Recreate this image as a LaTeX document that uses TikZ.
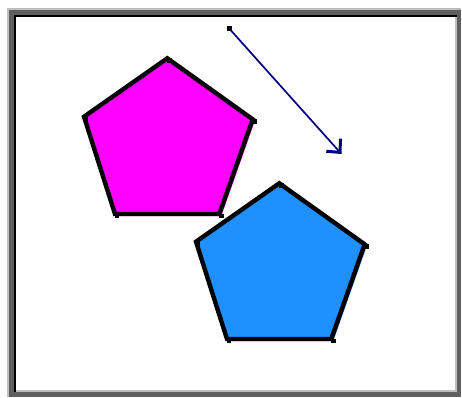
\documentclass[tikz,border=0pt]{standalone}
\usetikzlibrary{arrows.meta,calc}
\definecolor{framedark}{RGB}{95,95,95}
\definecolor{framelight}{RGB}{190,190,190}
\definecolor{penmagenta}{RGB}{255,0,255}
\definecolor{penblue}{RGB}{30,144,255}
\definecolor{vecnavy}{RGB}{0,0,128}
\tikzset{
  pentline/.style = {draw=black, line width=4.4pt, miter limit=4, fill=none},
  handle/.style   = {fill=black, minimum size=4.5pt, inner sep=0pt, outer sep=0pt},
  vecarrow/.style = {draw=vecnavy, line width=1.7pt,
                     -{Straight Barb[length=10pt, width=19pt, line width=3pt]}},
}
% a pentagon at a shifted position: fill, outline and corner handles
\newcommand{\pentagonat}[3]{%
  \begin{scope}[shift={(#1,#2)}]
    \fill[#3] (167.3,58.3) -- (252.7,119.3) -- (219.3,214) -- (115,214) -- (84,116.7) -- cycle;
    \fill[#3] (169.3,60.3) -- (254.7,121.3) -- (221.3,216) -- (117,216) -- (86,118.7) -- cycle;
    \draw[pentline] (167.3,58.3) -- (252.7,119.3) -- (219.3,214) -- (115,214) -- (84,116.7) -- cycle;
    \foreach \hx/\hy in {169.3/60.3, 254.7/121.3, 221.3/216, 117/216, 86/118.7}
      \node[handle] at (\hx,\hy) {};
  \end{scope}
}

\begin{document}
\begin{tikzpicture}[x=1pt, y=-1pt]
  \useasboundingbox (0,0) rectangle (462,397);

  % sunken window frame
  \fill[framedark] (7,8) rectangle (461,397);
  \fill[framelight] (7,8) rectangle (461,9.5);
  \fill[framelight] (7,8) rectangle (8.5,397);
  \fill[black] (14,15) rectangle (457,392);
  \fill[framelight] (16,17) rectangle (457,392);
  \fill[white] (16,17) rectangle (455,390);

  \pentagonat{0}{0}{penmagenta}
  \pentagonat{112}{125}{penblue}

  % translation vector
  \coordinate (vstart) at (229,28.3);
  \coordinate (vend) at (341.5,154);
  \draw[vecarrow] (vstart) -- (vend);
  \node[handle, minimum size=5pt] (vhandle) at (vstart) {};
\end{tikzpicture}
\end{document}
